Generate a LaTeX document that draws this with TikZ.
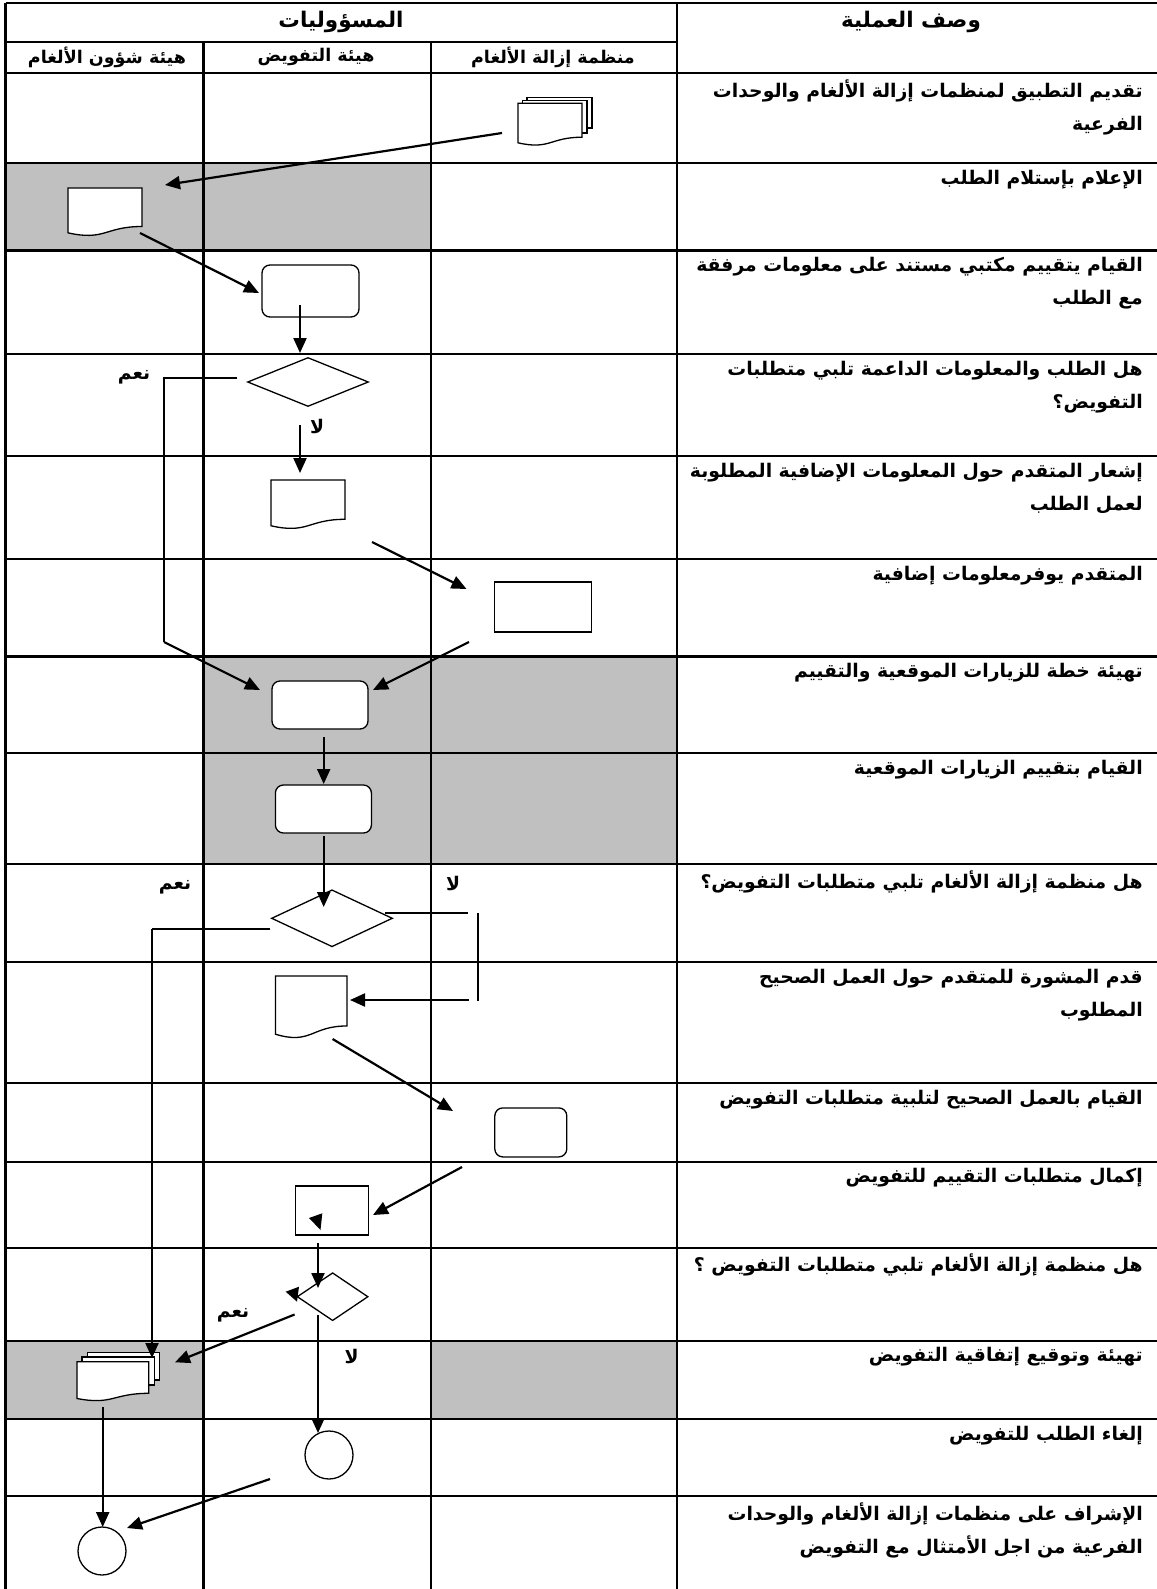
\documentclass[tikz,border=0pt]{standalone}
\usepackage{fontspec}
\usepackage{tikz}
\usetikzlibrary{arrows.meta,shapes.geometric}
\newfontfamily\arabicfont[Script=Arabic]{DejaVu Sans}
\TeXXeTstate=1
\definecolor{cellgray}{HTML}{C0C0C0}
\newcommand{\ar}[1]{\beginR #1\endR}
\newcommand{\descfont}{\arabicfont\bfseries\fontsize{18.8}{33}\selectfont}
\newcommand{\headfont}{\arabicfont\bfseries\fontsize{21.5}{24}\selectfont}
\newcommand{\subfont}{\arabicfont\bfseries\fontsize{17.5}{20}\selectfont}
\newcommand{\docshape}[4]{%
  \draw[shapeline,fill=white] (#1,#2) -- (#1+#3,#2) -- (#1+#3,#2+0.802*#4)
    .. controls (#1+0.5*#3,#2+0.802*#4) and (#1+0.5*#3,#2+1.1075*#4) .. (#1,#2+0.934*#4) -- cycle;}
\tikzset{
  tableline/.style={line width=2.2pt},
  shapeline/.style={line width=1.3pt},
  flow/.style={line width=2.2pt,-{Triangle[length=15pt,width=13pt]}},
  link/.style={line width=1.6pt},
  procbox/.style={draw,shapeline,fill=white,rounded corners=8pt,inner sep=0pt},
  plainbox/.style={draw,shapeline,fill=white,inner sep=0pt},
  decision/.style={draw,shapeline,fill=white,diamond,inner sep=0pt},
  endpoint/.style={draw,shapeline,circle,inner sep=0pt,minimum size=48pt},
  desc/.style={anchor=north east,align=right,inner sep=0pt,font=\descfont},
  answer/.style={inner sep=0pt,font=\descfont}
}

\begin{document}
\begin{tikzpicture}[x=1pt,y=-1pt]
  \useasboundingbox (0,0) rectangle (1156,1589);
  \fill[cellgray] (5.5,163) rectangle (431,250.5);
  \fill[cellgray] (203.5,656.5) rectangle (677,864);
  \fill[cellgray] (5.5,1340.7) rectangle (203.5,1419);
  \fill[cellgray] (431,1340.7) rectangle (677,1419);

  \draw[tableline] (5.5,2.7) -- (1160,2.7);
  \draw[tableline] (5.5,41.7) -- (677,41.7);
  \foreach \y in {72.7,163,250.5,354,456,559,656.5,753,864,962,1083,1161.7,1247.7,1340.7,1419,1496}
    \draw[tableline] (5.5,\y) -- (1160,\y);
  \draw[tableline] (5.5,2.7) -- (5.5,1592);
  \draw[tableline] (677,2.7) -- (677,1592);
  \draw[tableline] (203.5,41.7) -- (203.5,1592);
  \draw[tableline] (431,41.7) -- (431,1592);

  \node[font=\headfont] (resp) at (341,22) {\ar{المسؤوليات}};
  \node[font=\headfont] (proc) at (911,22) {\ar{وصف العملية}};
  \node[font=\subfont] (mac) at (107,57) {\ar{هيئة شؤون الألغام}};
  \node[font=\subfont] (auth) at (316,57) {\ar{هيئة التفويض}};
  \node[font=\subfont] (org) at (553,57) {\ar{منظمة إزالة الألغام}};

  \node[desc] (d1) at (1143,80) {\ar{تقديم التطبيق لمنظمات إزالة الألغام والوحدات}\\\ar{الفرعية}};
  \node[desc] (d2) at (1143,170) {\ar{الإعلام بإستلام الطلب}};
  \node[desc] (d3) at (1143,257) {\ar{القيام يتقييم مكتبي مستند على معلومات مرفقة}\\\ar{مع الطلب}};
  \node[desc] (d4) at (1143,361) {\ar{هل الطلب والمعلومات الداعمة تلبي متطلبات}\\\ar{التفويض؟}};
  \node[desc] (d5) at (1143,463) {\ar{إشعار المتقدم حول المعلومات الإضافية المطلوبة}\\\ar{لعمل الطلب}};
  \node[desc] (d6) at (1143,566) {\ar{المتقدم يوفرمعلومات إضافية}};
  \node[desc] (d7) at (1143,663) {\ar{تهيئة خطة للزيارات الموقعية والتقييم}};
  \node[desc] (d8) at (1143,760) {\ar{القيام بتقييم الزيارات الموقعية}};
  \node[desc] (d9) at (1143,871) {\ar{هل منظمة إزالة الألغام تلبي متطلبات التفويض؟}};
  \node[desc] (d10) at (1143,969) {\ar{قدم المشورة للمتقدم حول العمل الصحيح}\\\ar{المطلوب}};
  \node[desc] (d11) at (1143,1090) {\ar{القيام بالعمل الصحيح لتلبية متطلبات التفويض}};
  \node[desc] (d12) at (1143,1168) {\ar{إكمال  متطلبات التقييم للتفويض}};
  \node[desc] (d13) at (1143,1254) {\ar{هل منظمة إزالة الألغام تلبي متطلبات التفويض ؟}};
  \node[desc] (d14) at (1143,1347) {\ar{تهيئة وتوقيع إتفاقية التفويض}};
  \node[desc] (d15) at (1143,1426) {\ar{إلغاء الطلب للتفويض}};
  \node[desc] (d16) at (1143,1503) {\ar{الإشراف على منظمات إزالة الألغام والوحدات}\\\ar{الفرعية من اجل الأمتثال مع التفويض}};

  \draw[shapeline,fill=white] (527,97.3) rectangle (592,128);
  \draw[shapeline,fill=white] (522.5,100.3) rectangle (587,133);
  \docshape{518}{103.3}{64}{42.3}
  \docshape{68}{188}{74}{48}
  \node[procbox,minimum width=97pt,minimum height=52pt] (review) at (310.5,291) {};
  \node[decision,minimum width=121pt,minimum height=49pt] (check) at (308,382) {};
  \docshape{271}{480}{74}{49}
  \node[plainbox,minimum width=97pt,minimum height=50pt] (extra) at (543,607) {};
  \node[procbox,minimum width=96pt,minimum height=48pt] (plan) at (320,705) {};
  \node[procbox,minimum width=96pt,minimum height=48pt] (visit) at (323.4,809) {};
  \node[decision,minimum width=121pt,minimum height=57pt] (meet) at (332,918.3) {};
  \docshape{275.4}{976}{71.5}{62.3}
  \node[procbox,minimum width=72pt,minimum height=49pt] (fix) at (530.8,1132.4) {};
  \node[plainbox,minimum width=73pt,minimum height=49pt] (done) at (332,1210.5) {};
  \node[decision,minimum width=71pt,minimum height=48pt] (final) at (332.6,1296.7) {};
  \draw[shapeline,fill=white] (87.5,1352.7) rectangle (159.8,1380);
  \draw[shapeline,fill=white] (82,1357) rectangle (154.3,1385);
  \docshape{77}{1361.7}{71.7}{39.4}
  \node[endpoint] (cancel) at (329,1455) {};
  \node[endpoint] (watch) at (102,1551) {};

  \coordinate (A1) at (502,133);   \coordinate (B1) at (165,185);
  \coordinate (A2) at (140,233);   \coordinate (B2) at (259,293);
  \coordinate (A3) at (300,305);   \coordinate (B3) at (300,353);
  \coordinate (Y4) at (237,378);   \coordinate (Y4a) at (164,378);
  \coordinate (Y4b) at (164,642);  \coordinate (Y4c) at (260,690);
  \coordinate (N4) at (300,425);   \coordinate (N4a) at (300,473);
  \coordinate (A5) at (372,542);   \coordinate (B5) at (466.5,589);
  \coordinate (A6) at (469,642);   \coordinate (B6) at (373,690);
  \coordinate (A7) at (323.7,737); \coordinate (B7) at (323.7,784);
  \coordinate (A8) at (323.7,836); \coordinate (B8) at (323.7,907);
  \coordinate (Y9) at (270,929);   \coordinate (Y9a) at (152,929);
  \coordinate (Y9b) at (152,1358);
  \coordinate (N9) at (385,913);   \coordinate (N9a) at (468,913);
  \coordinate (N9b) at (478,913);  \coordinate (N9c) at (478,1001);
  \coordinate (N9d) at (469,1000); \coordinate (N9e) at (350,1000);
  \coordinate (A10) at (332.6,1039); \coordinate (B10) at (453,1111);
  \coordinate (A11) at (462,1167);   \coordinate (B11) at (373,1215);
  \coordinate (A12) at (318,1243);   \coordinate (B12) at (318,1288);
  \coordinate (Y13) at (294.6,1314.5); \coordinate (Y13a) at (175,1362.3);
  \coordinate (N13) at (318,1315);   \coordinate (N13a) at (318,1433);
  \coordinate (A14) at (102.7,1407); \coordinate (B14) at (102.7,1527);
  \coordinate (A15) at (270,1479);   \coordinate (B15) at (127,1528);

  \draw[flow] (A1) -- (B1);
  \draw[flow] (A2) -- (B2);
  \draw[flow] (A3) -- (B3);
  \draw[link] (Y4) -- (Y4a) -- (Y4b);
  \draw[flow] (Y4b) -- (Y4c);
  \draw[flow] (N4) -- (N4a);
  \draw[flow] (A5) -- (B5);
  \draw[flow] (A6) -- (B6);
  \draw[flow] (A7) -- (B7);
  \draw[flow] (A8) -- (B8);
  \draw[link] (Y9) -- (Y9a);
  \draw[flow] (Y9a) -- (Y9b);
  \draw[link] (N9) -- (N9a);
  \draw[link] (N9b) -- (N9c);
  \draw[flow] (N9d) -- (N9e);
  \draw[flow] (A10) -- (B10);
  \draw[flow] (A11) -- (B11);
  \fill (309,1218) -- (322.3,1213.3) -- (320.5,1230) -- cycle;
  \draw[flow] (A12) -- (B12);
  \fill (285.7,1291.7) -- (299,1286.7) -- (297,1301.7) -- cycle;
  \draw[flow] (Y13) -- (Y13a);
  \draw[flow] (N13) -- (N13a);
  \draw[flow] (A14) -- (B14);
  \draw[flow] (A15) -- (B15);

  \node[answer] (yes4) at (134,377) {\ar{نعم}};
  \node[answer] (no4) at (317,426) {\ar{لا}};
  \node[answer] (yes9) at (175,887) {\ar{نعم}};
  \node[answer] (no9) at (453,883) {\ar{لا}};
  \node[answer] (yes13) at (233,1315) {\ar{نعم}};
  \node[answer] (no13) at (351.5,1356) {\ar{لا}};
\end{tikzpicture}
\end{document}
